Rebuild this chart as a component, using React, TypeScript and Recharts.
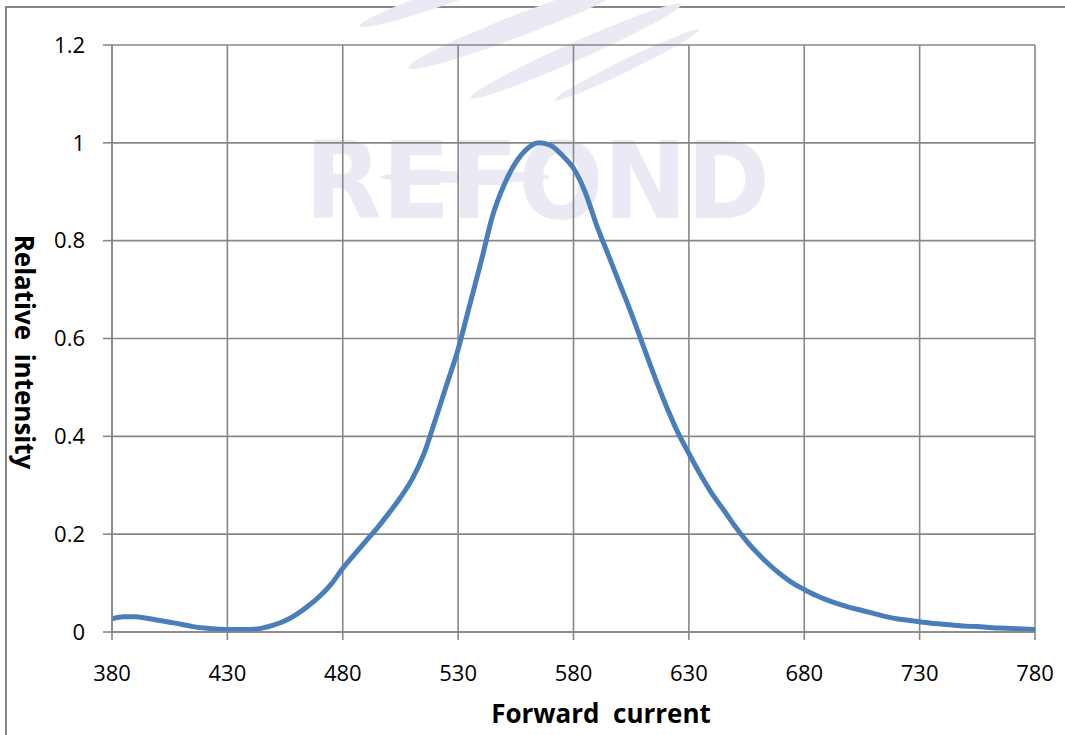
import { LineChart, Line, XAxis, YAxis, CartesianGrid } from 'recharts';

// Spectrum, every 5 nm
const wavelengths = [
  380, 385, 390, 395, 400, 405, 410, 415, 420, 425, 430, 435, 440, 445, 450, 455, 460, 465, 470, 475,
  480, 485, 490, 495, 500, 505, 510, 515, 520, 525, 530, 535, 540, 545, 550, 555, 560, 565, 570, 575,
  580, 585, 590, 595, 600, 605, 610, 615, 620, 625, 630, 635, 640, 645, 650, 655, 660, 665, 670, 675,
  680, 685, 690, 695, 700, 705, 710, 715, 720, 725, 730, 735, 740, 745, 750, 755, 760, 765, 770, 775, 780,
];
const intensity = [
  0.027, 0.031, 0.031, 0.028, 0.024, 0.02, 0.016, 0.011, 0.008, 0.006, 0.005, 0.005, 0.005, 0.008, 0.014, 0.023, 0.036, 0.053, 0.073, 0.098,
  0.13, 0.158, 0.186, 0.213, 0.243, 0.275, 0.312, 0.362, 0.432, 0.505, 0.578, 0.668, 0.758, 0.852, 0.915, 0.96, 0.988, 1.0, 0.995, 0.975,
  0.948, 0.9, 0.832, 0.772, 0.712, 0.652, 0.588, 0.524, 0.464, 0.41, 0.365, 0.322, 0.283, 0.25, 0.216, 0.186, 0.16, 0.137, 0.117, 0.1,
  0.087, 0.075, 0.065, 0.057, 0.05, 0.044, 0.038, 0.032, 0.027, 0.024, 0.021, 0.018, 0.016, 0.014, 0.012, 0.011, 0.009, 0.008, 0.007, 0.006, 0.005,
];

const xTicks = [380, 430, 480, 530, 580, 630, 680, 730, 780];
const yTicks = [0, 0.2, 0.4, 0.6, 0.8, 1, 1.2];

const data = wavelengths.map((w, i) => ({ w, v: intensity[i] }));

const GRID = '#878787';
const FONT = '"Open Sans", "Liberation Sans", sans-serif';

function Watermark() {
  // faint company logo sitting behind the plot
  return (
    <svg width={1065} height={735} style={{ position: 'absolute', left: 0, top: 0 }}>
      <g fill="#e9eaf3">
        <ellipse cx={441} cy={-2} rx={86} ry={8} transform="rotate(-19 441 -2)" />
        <ellipse cx={525} cy={23} rx={125} ry={11} transform="rotate(-21 525 23)" />
        <ellipse cx={576} cy={51} rx={115} ry={9} transform="rotate(-24 576 51)" />
        <ellipse cx={627} cy={65} rx={80} ry={6} transform="rotate(-26 627 65)" />
        <ellipse cx={465} cy={177} rx={85} ry={6} />
      </g>
      <text
        x={305} y={218} fill="#e9eaf3" fontFamily="DejaVu Sans" fontWeight="bold"
        fontSize={107} textLength={465} lengthAdjust="spacingAndGlyphs"
      >
        REFOND
      </text>
    </svg>
  );
}

export default function App() {
  return (
    <div style={{ position: 'absolute', left: 0, top: 0, width: 1065, height: 735, overflow: 'hidden', background: '#fff' }}>
      <div style={{ position: 'absolute', left: 5, top: 6, width: 1080, height: 760, border: `2px solid ${GRID}` }} />
      <Watermark />
      <div style={{ position: 'absolute', left: 0, top: 0 }}>
        <LineChart width={1065} height={735} data={data} margin={{ top: 45, right: 30, bottom: 0, left: 0 }}>
          <CartesianGrid stroke={GRID} strokeWidth={1.6} horizontalValues={yTicks} verticalValues={xTicks} />
          <XAxis
            type="number" dataKey="w" domain={[380, 780]} ticks={xTicks} height={103}
            stroke={GRID} strokeWidth={1.6} tickSize={8} tickMargin={25}
            tick={{ fill: '#000', fontSize: 22, fontFamily: FONT }}
            label={{
              content: () => (
                <text x={601} y={713} textAnchor="middle" dominantBaseline="central"
                  fill="#000" fontSize={26} fontWeight="bold" fontFamily={FONT}>
                  {'Forward\u00a0 current'}
                </text>
              ),
            }}
          />
          <YAxis
            type="number" domain={[0, 1.2]} ticks={yTicks} width={112}
            stroke={GRID} strokeWidth={1.6} tickSize={9} tickMargin={18}
            tick={{ fill: '#000', fontSize: 22, fontFamily: FONT }}
            label={{
              content: () => (
                <text transform="translate(25 352) rotate(90)" textAnchor="middle" dominantBaseline="central"
                  fill="#000" fontSize={26} fontWeight="bold" fontFamily={FONT}>
                  {'Relative\u00a0 intensity'}
                </text>
              ),
            }}
          />
          <Line
            type="monotone" dataKey="v" stroke="#4a7ebb" strokeWidth={5}
            dot={false} isAnimationActive={false}
          />
        </LineChart>
      </div>
    </div>
  );
}
